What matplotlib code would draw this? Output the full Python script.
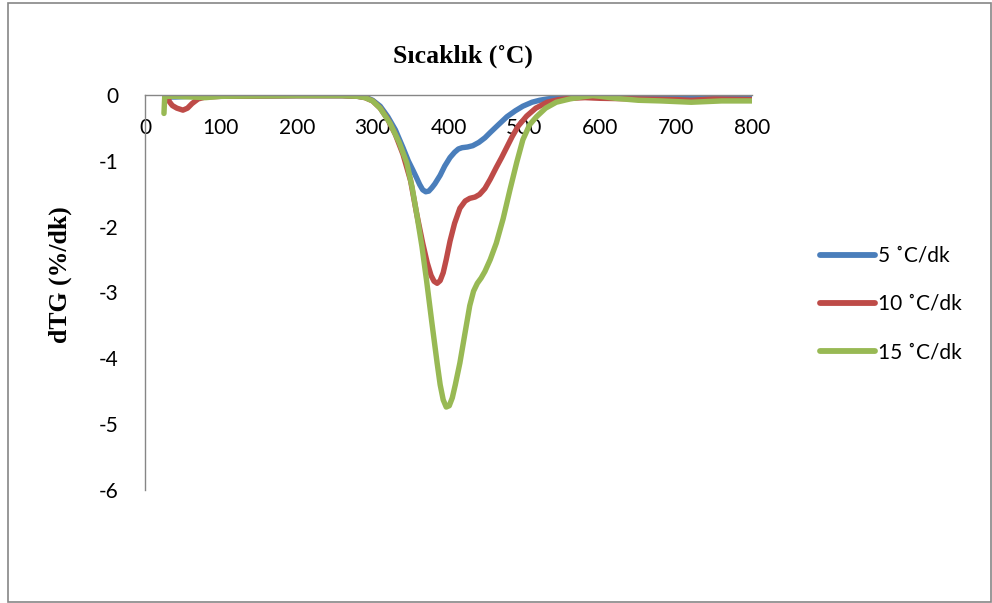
import matplotlib
matplotlib.use("Agg")
import matplotlib.pyplot as plt
from matplotlib.patches import Rectangle

plt.rcParams["axes.unicode_minus"] = False

BLUE, RED, GREEN = "#4a7ebb", "#be4b48", "#98b954"
AXIS_GRAY = "#868686"
TICK_FONT = ["Lato", "DejaVu Sans"]
SERIF = ["Liberation Serif", "DejaVu Serif"]

# 5 C/dk
t5 = [30, 40, 60, 100, 200, 260, 280, 290, 300, 310, 320, 330, 340, 347, 353,
      358, 362, 366, 370, 374, 378, 382, 389, 395, 402, 408, 413, 418, 425,
      432, 440, 448, 455, 465, 477, 488, 498, 510, 520, 530, 545, 560, 580,
      600, 650, 700, 750, 800]
d5 = [-0.03, -0.03, -0.02, -0.02, -0.01, -0.01, -0.02, -0.03, -0.08, -0.17,
      -0.33, -0.53, -0.8, -1.0, -1.14, -1.26, -1.36, -1.44, -1.47, -1.46,
      -1.41, -1.35, -1.22, -1.08, -0.95, -0.87, -0.82, -0.8, -0.79, -0.77,
      -0.72, -0.65, -0.57, -0.46, -0.33, -0.24, -0.17, -0.11, -0.08, -0.06,
      -0.04, -0.03, -0.02, -0.02, -0.03, -0.04, -0.03, -0.04]

# 10 C/dk
t10 = [30, 32, 36, 42, 50, 56, 62, 70, 80, 100, 200, 260, 280, 290, 300, 310,
       320, 330, 340, 350, 358, 366, 372, 377, 381, 385, 389, 393, 397, 402,
       408, 415, 422, 428, 435, 441, 448, 455, 463, 470, 477, 484, 492, 503,
       515, 530, 545, 560, 580, 600, 650, 700, 720, 750, 800]
d10 = [-0.02, -0.1, -0.16, -0.2, -0.23, -0.2, -0.13, -0.06, -0.03, -0.02,
       -0.01, -0.01, -0.02, -0.04, -0.09, -0.2, -0.37, -0.6, -0.9, -1.3, -1.8,
       -2.25, -2.55, -2.74, -2.83, -2.86, -2.82, -2.7, -2.5, -2.22, -1.95,
       -1.72, -1.61, -1.57, -1.55, -1.51, -1.42, -1.28, -1.1, -0.95, -0.79,
       -0.63, -0.47, -0.32, -0.2, -0.11, -0.07, -0.05, -0.04, -0.05, -0.06,
       -0.07, -0.08, -0.06, -0.07]

# 15 C/dk
t15 = [25, 26, 30, 40, 60, 80, 100, 200, 260, 280, 290, 300, 310, 323, 335,
       345, 352, 358, 365, 371, 378, 385, 389, 393, 397, 401, 405, 409, 415,
       422, 428, 433, 438, 443, 448, 455, 463, 472, 481, 490, 498, 507, 516,
       528, 542, 560, 575, 590, 600, 620, 650, 680, 700, 720, 740, 760, 780,
       800]
d15 = [-0.28, -0.02, -0.02, -0.02, -0.03, -0.04, -0.02, -0.01, -0.01, -0.02,
       -0.04, -0.09, -0.2, -0.43, -0.72, -1.03, -1.4, -1.8, -2.3, -2.81,
       -3.45, -4.07, -4.4, -4.63, -4.74, -4.72, -4.6, -4.4, -4.07, -3.6,
       -3.2, -2.98, -2.86, -2.78, -2.68, -2.5, -2.25, -1.88, -1.44, -1.02,
       -0.68, -0.45, -0.33, -0.2, -0.11, -0.06, -0.03, -0.01, -0.02, -0.05,
       -0.08, -0.09, -0.1, -0.11, -0.1, -0.09, -0.09, -0.09]

series = [(t5, d5, BLUE, "5 ˚C/dk"),
          (t10, d10, RED, "10 ˚C/dk"),
          (t15, d15, GREEN, "15 ˚C/dk")]

fig = plt.figure(figsize=(9.92, 6.03), dpi=100)
fig.patch.set_facecolor("white")
# chart-area border
fig.add_artist(Rectangle((8 / 992, 1 - 602 / 603), 983 / 992, 599 / 603,
                         transform=fig.transFigure, fill=False,
                         edgecolor=AXIS_GRAY, lw=1.2))

ax = fig.add_axes([145 / 992, 1 - 490 / 603, 607 / 992, 395 / 603])
for t, d, c, lab in series:
    ax.plot(t, d, color=c, lw=3.9, label=lab, solid_capstyle="round",
            solid_joinstyle="round")

ax.set_xlim(0, 800)
ax.set_ylim(-6, 0)
ax.set_xticks(range(0, 801, 100))
ax.set_yticks(range(-6, 1))

for s in ["right", "bottom"]:
    ax.spines[s].set_visible(False)
for s in ["left", "top"]:
    ax.spines[s].set_color(AXIS_GRAY)
    ax.spines[s].set_linewidth(1.0)

# x labels sit just under the zero line, like Excel
ax.tick_params(axis="x", length=0, top=False, bottom=False,
               labeltop=True, labelbottom=False, pad=-31)
ax.tick_params(axis="y", length=0, pad=19)
for lbl in ax.get_xticklabels() + ax.get_yticklabels():
    lbl.set_family(TICK_FONT)
    lbl.set_fontsize(15)

fig.text(463 / 992, 1 - 56 / 603, "Sıcaklık (˚C)", ha="center", va="center",
         family=SERIF, fontweight="bold", fontsize=18.5)
fig.text(60 / 992, 1 - 275 / 603, "dTG (%/dk)", ha="center", va="center",
         rotation=90, family=SERIF, fontweight="bold", fontsize=18.5)

leg = ax.legend(loc="center left", bbox_to_anchor=(812 / 992, 1 - 304 / 603),
                bbox_transform=fig.transFigure, frameon=False,
                prop={"family": TICK_FONT, "size": 15}, handlelength=2.6,
                handletextpad=0.15, labelspacing=1.35, borderaxespad=0)
for h in leg.get_lines():
    h.set_linewidth(4.2)

fig.savefig("out.png", dpi=100)
